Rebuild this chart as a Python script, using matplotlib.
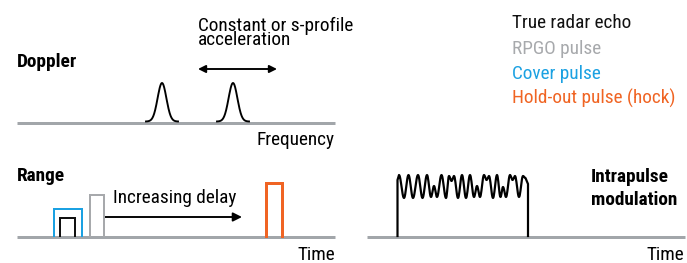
import numpy as np
import matplotlib
matplotlib.use("Agg")
import matplotlib.pyplot as plt
from matplotlib.patches import FancyArrowPatch

# canvas in pixel units, y grows downward
W, H = 687, 263

# doppler peaks (centre x, top y), baseline y
doppler_peaks = [162, 233]
doppler_top = 83
doppler_base = 123
doppler_sigma = 4.4

# range pulses: (left x, right x, top y, colour key)
range_base = 237
pulse_left = [54.3, 59.5, 90.3, 266.0]
pulse_right = [82.0, 75.0, 104.3, 281.8]
pulse_top = [209.0, 217.5, 195.0, 182.5]
pulse_kind = ["cover", "true", "rpgo", "holdout"]

# intrapulse waveform extrema (x, y)
wave_x = [399, 404, 408.5, 413, 418, 422.5, 427, 431, 434, 437, 441.5, 446,
          449, 451.5, 454, 458, 462, 466, 470, 474, 477, 480, 484, 486.5,
          489, 493, 497, 500.5, 503, 506, 510, 512.5, 515, 519, 523, 525.5]
wave_y = [175, 198, 175, 198, 175, 198, 175, 197, 186, 197, 175, 198,
          176, 181, 176, 198, 175, 198, 175, 197, 186, 197, 175, 180,
          176, 198, 175, 197, 187, 197, 175, 180, 176, 197, 176, 178]
wave_start, wave_end = 397.5, 528.0

legend_labels = ["True radar echo", "RPGO pulse", "Cover pulse", "Hold-out pulse (hock)"]
colors = {"true": "#111111", "rpgo": "#a7a9ac", "cover": "#1ba1e2", "holdout": "#f06423"}
legend_keys = ["true", "rpgo", "cover", "holdout"]

base_gray = "#a2a6aa"
px = 72.0 / 100.0  # points per pixel

plt.rcParams['font.family'] = ['Roboto Condensed', 'DejaVu Sans']
FS = 13.9

fig = plt.figure(figsize=(W / 100, H / 100), dpi=100)
ax = fig.add_axes([0, 0, 1, 1])
ax.set_xlim(0, W)
ax.set_ylim(H, 0)
ax.axis("off")

# baselines
ax.plot([17, 335], [doppler_base, doppler_base], color=base_gray, lw=3 * px, solid_capstyle="butt")
ax.plot([17, 335], [range_base, range_base], color=base_gray, lw=3 * px, solid_capstyle="butt")
ax.plot([367, 685], [range_base, range_base], color=base_gray, lw=3 * px, solid_capstyle="butt")

# doppler peaks
for c in doppler_peaks:
    xs = np.linspace(c - 16, c + 16, 200)
    ys = doppler_base - 1.5 - (doppler_base - 1.5 - doppler_top) * np.exp(-(xs - c) ** 2 / (2 * doppler_sigma ** 2))
    ax.plot(xs, ys, color="black", lw=1.9 * px)

arr = FancyArrowPatch((198, 69), (277, 69), arrowstyle="<|-|>", mutation_scale=11,
                      color="black", lw=1.9 * px, shrinkA=0, shrinkB=0)
ax.add_patch(arr)

# range pulses
for x0, x1, top, k in zip(pulse_left, pulse_right, pulse_top, pulse_kind):
    lw = 3 if k == "holdout" else 2
    ax.plot([x0, x0, x1, x1], [range_base - 1, top, top, range_base - 1],
            color=colors[k], lw=lw * px, solid_joinstyle="miter")

arr2 = FancyArrowPatch((105, 217), (242, 217), arrowstyle="-|>", mutation_scale=13,
                       color="black", lw=1.9 * px, shrinkA=0, shrinkB=0)
ax.add_patch(arr2)

# intrapulse waveform: half-cosine segments between the read extrema
seg_x, seg_y = [wave_start, wave_start], [range_base - 1, 180]
for i in range(len(wave_x) - 1):
    t = np.linspace(0, 1, 12)
    seg_x.extend(wave_x[i] + (wave_x[i + 1] - wave_x[i]) * t)
    seg_y.extend(wave_y[i] + (wave_y[i + 1] - wave_y[i]) * (1 - np.cos(np.pi * t)) / 2)
seg_x.extend([wave_end, wave_end])
seg_y.extend([184, range_base - 1])
ax.plot(seg_x, seg_y, color="black", lw=2.2 * px, solid_joinstyle="round")

# text (multi-line baseline alignment uses the last line)
ax.text(198, 45.3, "Constant or s-profile\nacceleration", fontsize=FS, va="baseline",
        linespacing=0.74)
ax.text(17, 66.7, "Doppler", fontsize=FS, weight="bold", va="baseline")
ax.text(335, 145, "Frequency", fontsize=FS, va="baseline", ha="right")
ax.text(17, 180.7, "Range", fontsize=FS, weight="bold", va="baseline")
ax.text(113, 203.3, "Increasing delay", fontsize=FS, va="baseline")
ax.text(335, 260.5, "Time", fontsize=FS, va="baseline", ha="right")
ax.text(684.5, 260.5, "Time", fontsize=FS, va="baseline", ha="right")
ax.text(591, 181.7, "Intrapulse", fontsize=FS, weight="bold", va="baseline")
ax.text(591, 205, "modulation", fontsize=FS, weight="bold", va="baseline")

for i, (lab, k) in enumerate(zip(legend_labels, legend_keys)):
    ax.text(512.3, 28.3 + 25.3 * i, lab, fontsize=FS, color=colors[k], va="baseline")

fig.savefig("out.png", dpi=100)
